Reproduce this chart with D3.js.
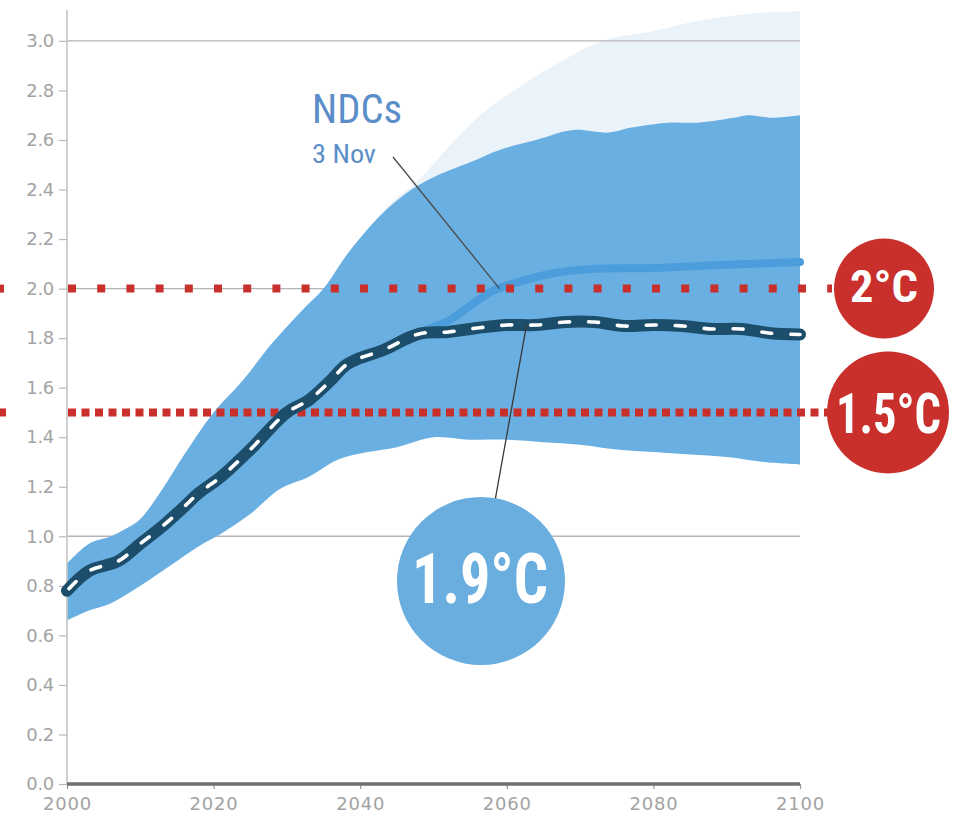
<!DOCTYPE html>
<html>
<head>
<meta charset="utf-8">
<script src="https://cdn.jsdelivr.net/npm/d3@7"></script>
<style>
  html, body { margin: 0; padding: 0; background: #ffffff; }
  svg { display: block; }
</style>
</head>
<body>
<svg id="chart" width="958" height="823"></svg>
<script>
// ---------- data ----------
const yTicks = [0.0, 0.2, 0.4, 0.6, 0.8, 1.0, 1.2, 1.4, 1.6, 1.8, 2.0, 2.2, 2.4, 2.6, 2.8, 3.0];
const gridValues = [1.0, 2.0, 3.0];
const xTicks = [2000, 2020, 2040, 2060, 2080, 2100];

// main likely-range band
const bandYears = [2000, 2003, 2006, 2008, 2010, 2013, 2016, 2020, 2024, 2028, 2032, 2035, 2038, 2041, 2044, 2047, 2050, 2055, 2059, 2064, 2069, 2074, 2077, 2082, 2086, 2091, 2093, 2096, 2100];
const bandUpper = [0.89, 0.97, 1.00, 1.03, 1.07, 1.19, 1.33, 1.50, 1.63, 1.78, 1.91, 2.00, 2.13, 2.24, 2.33, 2.40, 2.45, 2.51, 2.56, 2.60, 2.64, 2.63, 2.65, 2.67, 2.67, 2.69, 2.70, 2.69, 2.70];
const bandLowerYears = [2000, 2003, 2006, 2010, 2014, 2018, 2021, 2025, 2029, 2033, 2037, 2041, 2045, 2050, 2055, 2060, 2065, 2070, 2075, 2080, 2085, 2090, 2095, 2100];
const bandLower = [0.66, 0.70, 0.73, 0.80, 0.88, 0.96, 1.01, 1.09, 1.19, 1.24, 1.31, 1.34, 1.36, 1.40, 1.39, 1.39, 1.38, 1.37, 1.35, 1.34, 1.33, 1.32, 1.30, 1.29];

// outer pale range (upper part)
const paleYears = [2040, 2044, 2048, 2052, 2056, 2062, 2067, 2073, 2080, 2086, 2093, 2100];
const paleUpper = [2.20, 2.34, 2.44, 2.57, 2.69, 2.82, 2.91, 3.00, 3.04, 3.08, 3.11, 3.12];

// median pathways
const medianYears = [2000, 2003, 2007, 2010, 2013, 2016, 2018, 2021, 2025, 2030, 2033, 2036, 2038, 2040, 2043, 2048, 2052, 2056, 2060, 2064, 2068, 2072, 2076, 2080, 2084, 2088, 2092, 2096, 2100];
const medianValues = [0.78, 0.86, 0.90, 0.97, 1.04, 1.12, 1.175, 1.24, 1.35, 1.50, 1.55, 1.63, 1.69, 1.72, 1.75, 1.817, 1.825, 1.841, 1.853, 1.853, 1.865, 1.865, 1.849, 1.853, 1.849, 1.837, 1.837, 1.82, 1.815];

const ndcYears = [2040, 2044, 2047, 2052, 2055, 2058, 2062, 2066, 2072, 2080, 2089, 2100];
const ndcValues = [1.72, 1.77, 1.81, 1.87, 1.93, 1.99, 2.03, 2.06, 2.08, 2.083, 2.095, 2.107];

const targets = [
  { value: 2.0, label: "2°C", dash: "8 21.2", stub: 4 },
  { value: 1.5, label: "1.5°C", dash: "8 5.5", stub: 6 }
];
const resultLabel = "1.9°C";
const ndcTitle = "NDCs";
const ndcSub = "3 Nov";

// ---------- layout ----------
const svg = d3.select("#chart");
const x = d3.scaleLinear().domain([2000, 2100]).range([67, 800]);
const y = d3.scaleLinear().domain([0, 3]).range([784, 40.9]);

const CONDENSED = "'Liberation Sans Narrow', 'Roboto Condensed', 'Open Sans', sans-serif";
const LABELFONT = "'DejaVu Sans', Lato, sans-serif";

// place a text so that it starts at (x0, baseline) and is exactly `width` wide (horizontal scale)
function fitText(sel, x0, baseline, width) {
  const w = sel.node().getComputedTextLength();
  const s = w > 0 ? width / w : 1;
  sel.attr("x", 0).attr("y", 0)
     .attr("transform", `translate(${x0},${baseline}) scale(${s},1)`);
  return sel;
}

// pale outer range
const paleBottom = paleYears.map(() => 1.6);
svg.append("path")
  .datum(paleYears.map((yr, i) => ({ x: yr, y0: paleBottom[i], y1: paleUpper[i] })))
  .attr("fill", "#eaf3fa")
  .attr("d", d3.area().curve(d3.curveCatmullRom).x(d => x(d.x)).y0(d => y(d.y0)).y1(d => y(d.y1)));

// grid lines
svg.append("g").selectAll("line").data(gridValues).join("line")
  .attr("x1", x(2000)).attr("x2", x(2100))
  .attr("y1", d => y(d)).attr("y2", d => y(d))
  .attr("stroke", "#b4b4b4").attr("stroke-width", 1.4);

// main band
const bandPath = d3.line().curve(d3.curveCatmullRom);
const lowerPts = bandLowerYears.map((yr, i) => [x(yr), y(bandLower[i])]).reverse();
const upperPts = bandYears.map((yr, i) => [x(yr), y(bandUpper[i])]);
const upperD = bandPath(upperPts);
const lowerD = bandPath(lowerPts);
svg.append("path")
  .attr("fill", "#6aafe1")
  .attr("d", upperD + "L" + lowerD.slice(1) + "Z");

// y axis
const yAxis = d3.axisLeft(y).tickValues(yTicks).tickFormat(d3.format(".1f")).tickSize(8).tickPadding(5);
const gy = svg.append("g").attr("transform", `translate(${x(2000)},0)`).call(yAxis);
gy.select(".domain").remove();
gy.selectAll(".tick line").attr("stroke", "#b8b8b8").attr("stroke-width", 1.2);
gy.selectAll(".tick text").attr("fill", "#a3a3a3").attr("font-family", LABELFONT)
  .attr("font-size", 18).attr("letter-spacing", -0.3);
svg.append("line")
  .attr("x1", x(2000)).attr("x2", x(2000))
  .attr("y1", 10).attr("y2", y(0))
  .attr("stroke", "#c4c4c4").attr("stroke-width", 1.6);

// x axis
const xAxis = d3.axisBottom(x).tickValues(xTicks).tickFormat(d3.format("d")).tickSize(5).tickPadding(8);
const gx = svg.append("g").attr("transform", `translate(0,${y(0)})`).call(xAxis);
gx.select(".domain").remove();
gx.selectAll(".tick line").attr("stroke", "#9a9a9a").attr("stroke-width", 1.2);
gx.selectAll(".tick text").attr("fill", "#a3a3a3").attr("font-family", LABELFONT)
  .attr("font-size", 18).attr("letter-spacing", 0.8);
svg.append("line")
  .attr("x1", x(2000)).attr("x2", x(2100))
  .attr("y1", y(0)).attr("y2", y(0))
  .attr("stroke", "#6f6f6f").attr("stroke-width", 3.5);

// NDC median line (light blue)
const lineGen = d3.line().curve(d3.curveCatmullRom);
svg.append("path")
  .attr("d", lineGen(ndcYears.map((yr, i) => [x(yr), y(ndcValues[i])])))
  .attr("fill", "none").attr("stroke", "#4b9edb").attr("stroke-width", 8).attr("stroke-linecap", "round");

// red target lines
const tg = svg.append("g");
targets.forEach(t => {
  tg.append("line")
    .attr("x1", x(2000) + 1).attr("x2", 832)
    .attr("y1", y(t.value)).attr("y2", y(t.value))
    .attr("stroke", "#c9302c").attr("stroke-width", 8)
    .attr("stroke-dasharray", t.dash);
  tg.append("line")
    .attr("x1", 0).attr("x2", t.stub)
    .attr("y1", y(t.value)).attr("y2", y(t.value))
    .attr("stroke", "#c9302c").attr("stroke-width", 8);
});

// dark median line with white dashes
const medPts = medianYears.map((yr, i) => [x(yr), y(medianValues[i])]);
svg.append("path")
  .attr("d", lineGen(medPts))
  .attr("fill", "none").attr("stroke", "#1c4e6c").attr("stroke-width", 12).attr("stroke-linecap", "round").attr("stroke-linejoin", "round");
svg.append("path")
  .attr("d", lineGen(medPts))
  .attr("fill", "none").attr("stroke", "#ffffff").attr("stroke-width", 3.6)
  .attr("stroke-dasharray", "10 19").attr("stroke-dashoffset", -3).attr("stroke-linecap", "round");

// leader lines
svg.append("line")
  .attr("x1", 393).attr("y1", 157)
  .attr("x2", x(2059)).attr("y2", y(2.0))
  .attr("stroke", "#4a4a4a").attr("stroke-width", 1.3);
svg.append("line")
  .attr("x1", x(2062.7)).attr("y1", y(1.855))
  .attr("x2", 493).attr("y2", 512)
  .attr("stroke", "#3a3a3a").attr("stroke-width", 1.3);

// NDC label
fitText(svg.append("text")
  .attr("fill", "#5b8dc8").attr("font-family", CONDENSED).attr("font-size", 40)
  .text(ndcTitle), 312, 123, 90);
fitText(svg.append("text")
  .attr("fill", "#5b8dc8").attr("font-family", CONDENSED).attr("font-size", 25)
  .text(ndcSub), 312, 163, 64);

// target circles
const circ = [
  { cx: 884, r: 50, fs: 45, tl: 68, tx: 850, dy: 13 },
  { cx: 888, r: 61, fs: 55, tl: 105, tx: 836, dy: 21 }
];
targets.forEach((t, i) => {
  const c = circ[i];
  svg.append("circle").attr("cx", c.cx).attr("cy", y(t.value)).attr("r", c.r).attr("fill", "#c9302c");
  fitText(svg.append("text")
    .attr("fill", "#ffffff").attr("font-family", CONDENSED).attr("font-weight", "bold")
    .attr("font-size", c.fs)
    .text(t.label), c.tx, y(t.value) + c.dy, c.tl);
});

// result circle
svg.append("circle").attr("cx", 481).attr("cy", 581).attr("r", 84).attr("fill", "#6aaee0");
fitText(svg.append("text")
  .attr("fill", "#ffffff").attr("font-family", CONDENSED).attr("font-weight", "bold")
  .attr("font-size", 70)
  .text(resultLabel), 412, 603, 136);
</script>
</body>
</html>
